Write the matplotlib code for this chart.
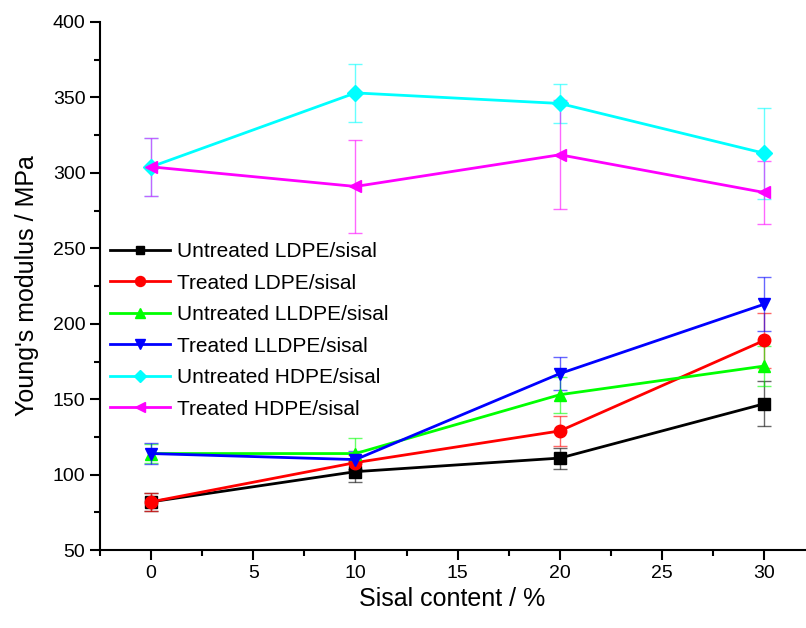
import numpy as np
import matplotlib
matplotlib.use('Agg')
import matplotlib.pyplot as plt
from matplotlib.ticker import MultipleLocator

plt.rcParams['font.family'] = ['Liberation Sans', 'DejaVu Sans']

# data
sisal = [0, 10, 20, 30]

untr_ldpe = [82, 102, 111, 147]
untr_ldpe_err = [6, 7, 7, 15]
tr_ldpe = [82, 108, 129, 189]
tr_ldpe_err = [6, 5, 10, 18]
untr_lldpe = [114, 114, 153, 172]
untr_lldpe_err = [6, 10, 12, 13]
tr_lldpe = [114, 110, 167, 213]
tr_lldpe_err = [7, 6, 11, 18]
untr_hdpe = [304, 353, 346, 313]
untr_hdpe_err = [19, 19, 13, 30]
tr_hdpe = [304, 291, 312, 287]
tr_hdpe_err = [19, 31, 36, 21]

labels = ['Untreated LDPE/sisal', 'Treated LDPE/sisal', 'Untreated LLDPE/sisal',
          'Treated LLDPE/sisal', 'Untreated HDPE/sisal', 'Treated HDPE/sisal']
colors = ['black', 'red', '#00ff00', 'blue', 'cyan', 'magenta']
markers = ['s', 'o', '^', 'v', 'D', '<']
msizes = [8, 9, 9, 9, 8, 9]

series = [(untr_ldpe, untr_ldpe_err), (tr_ldpe, tr_ldpe_err),
          (untr_lldpe, untr_lldpe_err), (tr_lldpe, tr_lldpe_err),
          (untr_hdpe, untr_hdpe_err), (tr_hdpe, tr_hdpe_err)]

fig = plt.figure(figsize=(8.06, 6.28), dpi=100)
ax = fig.add_axes([0.124, 0.124, 0.875, 0.841])

handles = []
for (y, e), lab, c, m, ms in zip(series, labels, colors, markers, msizes):
    ax.errorbar(sisal, y, yerr=e, fmt='none', ecolor=c, elinewidth=1,
                capsize=5, capthick=1, alpha=0.6, zorder=2)
    h, = ax.plot(sisal, y, color=c, marker=m, markersize=ms, lw=2,
                 label=lab, zorder=3)
    handles.append(h)

ax.set_xlim(-2.5, 32)
ax.set_ylim(50, 400)
ax.xaxis.set_major_locator(MultipleLocator(5))
ax.xaxis.set_minor_locator(MultipleLocator(2.5))
ax.yaxis.set_major_locator(MultipleLocator(50))
ax.yaxis.set_minor_locator(MultipleLocator(25))
ax.tick_params(which='major', direction='out', length=7, width=1.5, labelsize=14)
ax.tick_params(which='minor', direction='out', length=4, width=1.5)
for s in ['top', 'right']:
    ax.spines[s].set_visible(False)
for s in ['left', 'bottom']:
    ax.spines[s].set_linewidth(1.5)

ax.set_xlabel('Sisal content / %', fontsize=18, labelpad=4)
ax.set_ylabel("Young's modulus / MPa", fontsize=18, labelpad=10)

ax.legend(handles=handles, loc='upper left', bbox_to_anchor=(0.0, 0.603),
          frameon=False, fontsize=15, handlelength=2.85, handletextpad=0.35,
          labelspacing=0.6, borderaxespad=0.1, markerscale=0.8)

fig.savefig('out.png', dpi=100)
